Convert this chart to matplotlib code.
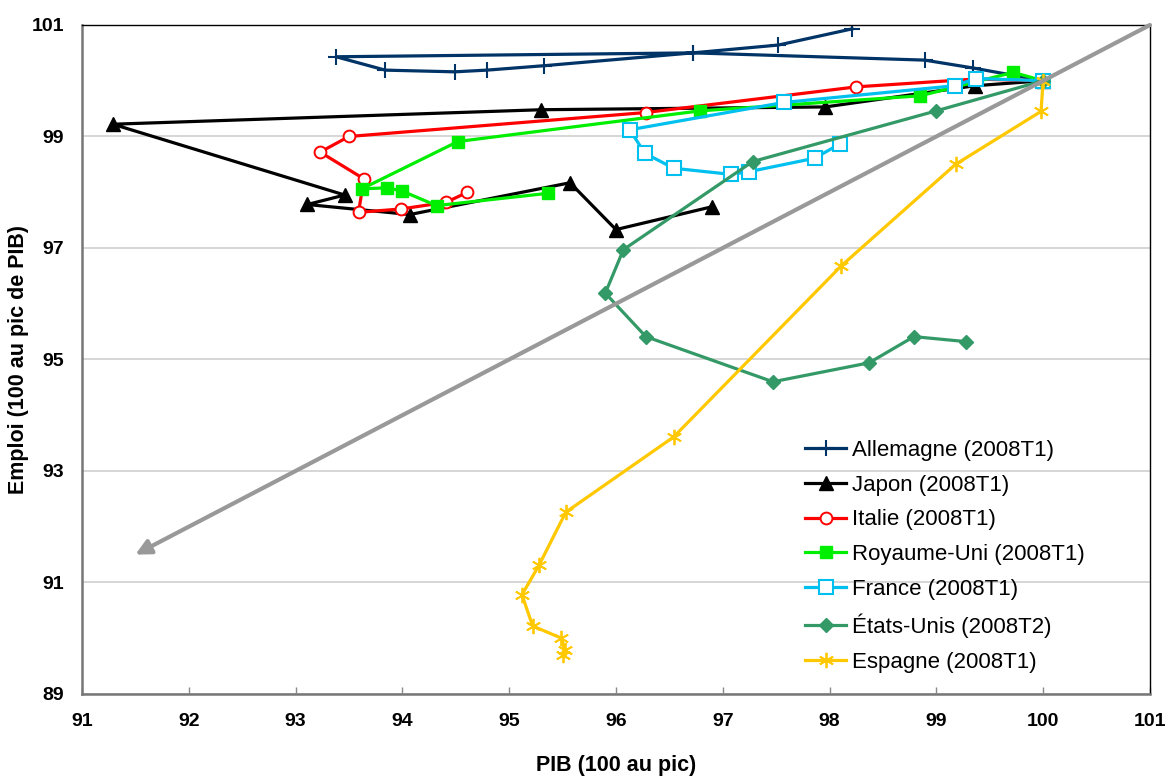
import matplotlib
matplotlib.use("Agg")
import matplotlib.pyplot as plt

# Points (PIB, Emploi), 100 = pic
allemagne_pib = [100, 99.34, 98.89, 96.72, 93.38, 93.84, 94.49, 94.79, 95.33, 96.72, 97.52, 98.21]
allemagne_emploi = [100, 100.23, 100.37, 100.50, 100.43, 100.19, 100.16, 100.19, 100.27, 100.50, 100.64, 100.93]

japon_pib = [100, 99.36, 97.96, 95.30, 91.29, 93.46, 93.11, 94.07, 95.57, 96.00, 96.90]
japon_emploi = [100, 99.91, 99.53, 99.48, 99.22, 97.95, 97.78, 97.60, 98.17, 97.33, 97.74]

italie_pib = [100, 99.36, 98.25, 96.28, 93.50, 93.23, 93.64, 93.59, 93.99, 94.41, 94.61]
italie_emploi = [100, 100.03, 99.89, 99.43, 99.00, 98.72, 98.24, 97.64, 97.70, 97.82, 98.00]

ru_pib = [100, 99.72, 98.85, 96.79, 94.52, 93.62, 93.86, 94.00, 94.32, 95.36]
ru_emploi = [100, 100.15, 99.73, 99.46, 98.91, 98.06, 98.08, 98.02, 97.76, 97.98]

france_pib = [100, 99.37, 99.17, 97.57, 96.13, 96.27, 96.54, 97.08, 97.25, 97.86, 98.10]
france_emploi = [100, 100.04, 99.91, 99.61, 99.12, 98.70, 98.43, 98.32, 98.37, 98.61, 98.87]

eu_pib = [100, 99.00, 97.28, 96.07, 95.90, 96.28, 97.47, 98.37, 98.79, 99.28]
eu_emploi = [100, 99.46, 98.55, 96.97, 96.19, 95.41, 94.60, 94.94, 95.41, 95.32]

espagne_pib = [100, 99.98, 99.18, 98.11, 96.54, 95.53, 95.28, 95.12, 95.22, 95.49, 95.52, 95.50]
espagne_emploi = [100, 99.45, 98.50, 96.68, 93.61, 92.26, 91.31, 90.78, 90.22, 90.00, 89.78, 89.70]

# 45 degree reference arrow (start, end)
diag_start = (101, 101)
diag_end = (91.5, 91.5)

x_ticks = list(range(91, 102))
y_ticks = list(range(89, 102, 2))

plt.rcParams["font.family"] = ["Liberation Sans", "DejaVu Sans"]

fig = plt.figure(figsize=(11.69, 7.76), dpi=100)
ax = fig.add_axes([0.0701, 0.1057, 0.9136, 0.8621])

# Series, in legend order
ax.plot(allemagne_pib, allemagne_emploi, color="#003366", lw=2.3, marker="+",
        ms=11, mew=1.5, label="Allemagne (2008T1)")
ax.plot(japon_pib, japon_emploi, color="black", lw=2.3, marker="^",
        ms=10.5, label="Japon (2008T1)")
ax.plot(italie_pib, italie_emploi, color="#FF0000", lw=2.3, marker="o",
        ms=8.5, mfc="white", mew=1.4, label="Italie (2008T1)")
ax.plot(ru_pib, ru_emploi, color="#00EE00", lw=2.3, marker="s",
        ms=9, label="Royaume-Uni (2008T1)")
ax.plot(france_pib, france_emploi, color="#00C0F0", lw=2.3, marker="s",
        ms=10, mfc="white", mew=1.5, label="France (2008T1)")
ax.plot(eu_pib, eu_emploi, color="#339966", lw=2.3, marker="D",
        ms=7, label="États-Unis (2008T2)")
ax.plot(espagne_pib, espagne_emploi, color="#FFC800", lw=2.3, marker=(6, 2, 0),
        ms=11, mew=1.3, label="Espagne (2008T1)")

ax.annotate("", xy=diag_end, xytext=diag_start,
            arrowprops=dict(arrowstyle="-|>,head_length=0.9,head_width=0.45",
                            color="#999999", lw=3, shrinkA=0, shrinkB=0),
            zorder=10)

ax.set_xlim(91, 101)
ax.set_ylim(89, 101)
ax.set_xticks(x_ticks)
ax.set_yticks(y_ticks)
ax.yaxis.grid(True, color="#d0d0d0", lw=1.2)
ax.set_axisbelow(True)

ax.tick_params(axis="x", direction="in", length=5, width=1, color="#888888",
               pad=14, labelsize=14)
ax.tick_params(axis="y", length=0, pad=13, labelsize=14)
for lab in ax.get_xticklabels() + ax.get_yticklabels():
    lab.set_fontweight("bold")

for s in ["left", "bottom"]:
    ax.spines[s].set_color("#777777")
    ax.spines[s].set_linewidth(1.8)
for s in ["top", "right"]:
    ax.spines[s].set_color("black")
    ax.spines[s].set_linewidth(1.0)

ax.set_xlabel("PIB (100 au pic)", fontsize=15.5, fontweight="bold", labelpad=18)
ax.set_ylabel("Emploi (100 au pic de PIB)", fontsize=15.5, fontweight="bold", labelpad=2)

ax.legend(loc="upper left", bbox_to_anchor=(0.677, 0.38), frameon=False,
          fontsize=16, handlelength=1.85, handletextpad=0.25, labelspacing=0.62,
          borderaxespad=0, borderpad=0)

fig.savefig("out.png", dpi=100)
